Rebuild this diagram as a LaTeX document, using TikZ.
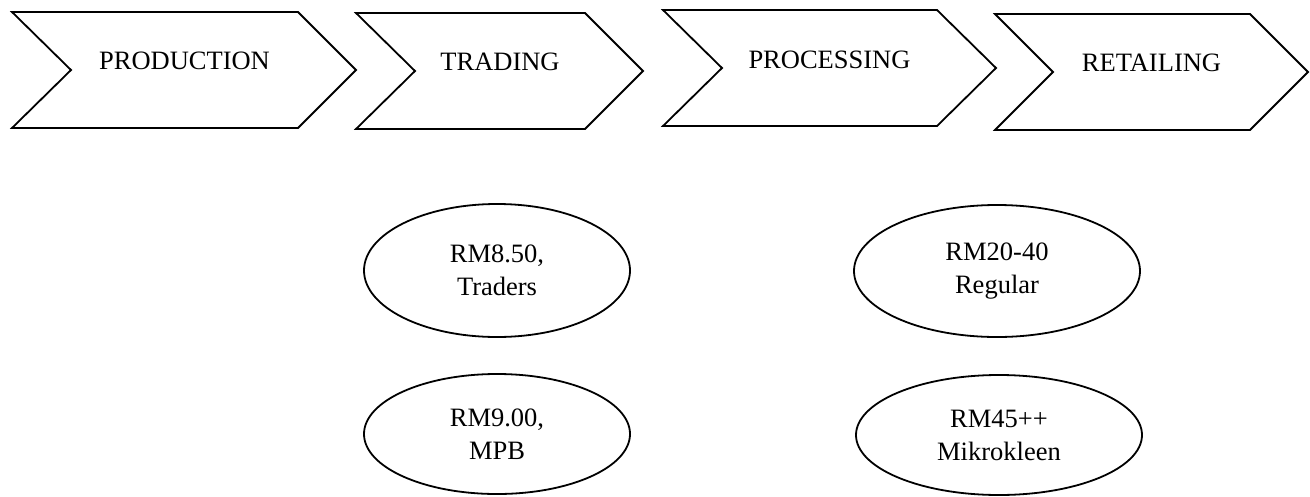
\documentclass[tikz,border=0pt]{standalone}
\usepackage{fontspec}
\setmainfont{Liberation Serif}
\usetikzlibrary{shapes.geometric}
\begin{document}
\begin{tikzpicture}[x=1pt,y=-1pt,
  outline/.style={draw=black,line width=1.8pt,line join=miter},
  stage/.style={inner sep=0pt,font=\fontsize{26.5}{32}\selectfont},
  price/.style={outline,ellipse,inner sep=0pt,align=center,
    font=\fontsize{26.5}{33}\selectfont}]
\useasboundingbox (0,0) rectangle (1310,496);

% value-chain stages
\draw[outline] (12,12) -- (298,12) -- (356,70) -- (298,128) -- (12,128) -- (71,70) -- cycle;
\draw[outline] (356,13) -- (585,13) -- (643,71) -- (585,129) -- (356,129) -- (415,71) -- cycle;
\draw[outline] (663,10) -- (937,10) -- (996,68) -- (937,126) -- (663,126) -- (722,68) -- cycle;
\draw[outline] (995,14) -- (1250,14) -- (1308,72) -- (1250,130) -- (995,130) -- (1053,72) -- cycle;

\node[stage] (production) at (184.5,61) {PRODUCTION};
\node[stage] (trading)    at (500,62)   {TRADING};
\node[stage] (processing) at (829.5,60) {PROCESSING};
\node[stage] (retailing)  at (1151.5,63) {RETAILING};

% prices
\node[price,minimum width=266pt,minimum height=133pt] (traders) at (497,270.5) {RM8.50,\\Traders};
\node[price,minimum width=266pt,minimum height=120pt] (mpb)     at (497,434)   {RM9.00,\\MPB};
\node[price,minimum width=286pt,minimum height=132pt] (regular) at (997,271)   {RM20-40\\Regular};
\node[price,minimum width=286pt,minimum height=120pt] (mikro)   at (999,435)   {RM45++\\Mikrokleen};
\end{tikzpicture}
\end{document}
